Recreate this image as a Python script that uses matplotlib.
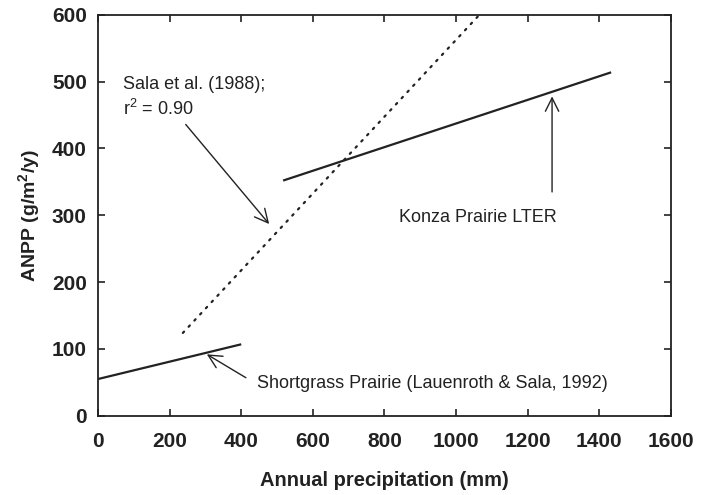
import matplotlib
matplotlib.use('Agg')
import matplotlib.pyplot as plt

plt.rcParams['font.family'] = ['Liberation Sans', 'DejaVu Sans']
plt.rcParams['mathtext.fontset'] = 'custom'
plt.rcParams['mathtext.rm'] = 'Liberation Sans'
plt.rcParams['mathtext.bf'] = 'Liberation Sans:bold'
plt.rcParams['mathtext.default'] = 'regular'

# line end points (precipitation mm, ANPP g/m2/y)
shortgrass_x = [0, 400]
shortgrass_y = [55, 107]
sala_x = [237, 1065]
sala_y = [124, 600]
konza_x = [517, 1433]
konza_y = [352, 514]

x_ticks = [0, 200, 400, 600, 800, 1000, 1200, 1400, 1600]
y_ticks = [0, 100, 200, 300, 400, 500, 600]

ink = '#222222'

fig = plt.figure(figsize=(7.1, 4.95), dpi=100)
ax = fig.add_axes([0.138, 0.160, 0.807, 0.810])

ax.plot(shortgrass_x, shortgrass_y, color=ink, lw=1.6, solid_capstyle='butt')
ax.plot(sala_x, sala_y, color=ink, lw=1.6, linestyle=(0, (0.8, 3.0)), dash_capstyle='round')
ax.plot(konza_x, konza_y, color=ink, lw=1.6, solid_capstyle='butt')

arrow = dict(arrowstyle='->', color=ink, lw=1.0, mutation_scale=24, shrinkA=0, shrinkB=0)

ax.annotate('', xy=(478, 287), xytext=(245, 436), arrowprops=arrow)
ax.text(70, 496, 'Sala et al. (1988);', fontsize=13, color=ink, va='center', ha='left')
ax.text(70, 459, r'r$^2$ = 0.90', fontsize=13, color=ink, va='center', ha='left')

ax.annotate('', xy=(1268, 478), xytext=(1268, 335), arrowprops=arrow)
ax.text(1061, 296, 'Konza Prairie LTER', fontsize=13, color=ink, va='center', ha='center')

ax.annotate('', xy=(304, 92), xytext=(413, 57), arrowprops=arrow)
ax.text(444, 49, 'Shortgrass Prairie (Lauenroth & Sala, 1992)', fontsize=13,
        color=ink, va='center', ha='left')

ax.set_xlim(0, 1600)
ax.set_ylim(0, 600)
ax.set_xticks(x_ticks)
ax.set_yticks(y_ticks)
ax.tick_params(direction='in', top=True, right=True, length=5, width=1.2,
               colors=ink, labelsize=15)
ax.tick_params(axis='x', pad=12)
ax.tick_params(axis='y', pad=8)
for lab in ax.get_xticklabels() + ax.get_yticklabels():
    lab.set_fontweight('bold')
for sp in ax.spines.values():
    sp.set_color(ink)
    sp.set_linewidth(1.3)

ax.set_xlabel('Annual precipitation (mm)', fontsize=14.5, fontweight='bold', color=ink, labelpad=14)
ax.set_ylabel(r'ANPP (g/m$^{\mathbf{2}}$/y)', fontsize=14, fontweight='bold', color=ink, labelpad=7)

fig.savefig('out.png', dpi=100)
